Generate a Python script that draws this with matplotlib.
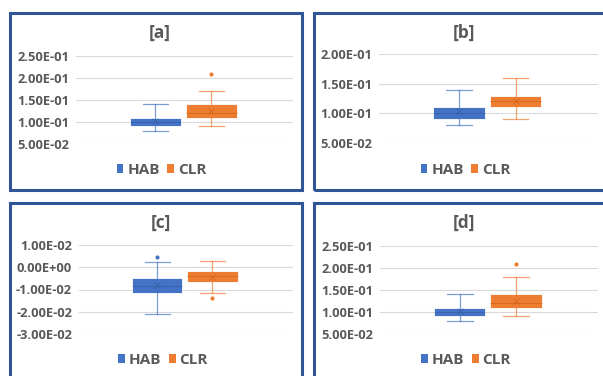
import matplotlib
matplotlib.use("Agg")
import matplotlib.pyplot as plt
from matplotlib.patches import Rectangle
from matplotlib.ticker import FuncFormatter

plt.rcParams['font.family'] = ['Open Sans', 'DejaVu Sans']

W, H = 603, 376
series = ["HAB", "CLR"]
colors = ["#4472C4", "#ED7D31"]
mean_colors = ["#2F5597", "#C55A11"]

# stats: [whisker_low, q1, median, q3, whisker_high]
hab_a = [0.08, 0.09, 0.10, 0.11, 0.14]
clr_a = [0.09, 0.11, 0.12, 0.14, 0.17]
mean_a = [0.102, 0.124]
fliers_a = [[], [0.21]]
ticks_a = [0.05, 0.10, 0.15, 0.20, 0.25]

hab_b = [0.08, 0.09, 0.10, 0.11, 0.14]
clr_b = [0.09, 0.11, 0.12, 0.13, 0.16]
mean_b = [0.104, 0.121]
fliers_b = [[], []]
ticks_b = [0.05, 0.10, 0.15, 0.20]

hab_c = [-0.021, -0.0115, -0.0085, -0.005, 0.0025]
clr_c = [-0.0115, -0.0065, -0.004, -0.0018, 0.003]
mean_c = [-0.008, -0.0043]
fliers_c = [[0.0045], [-0.014]]
ticks_c = [-0.03, -0.02, -0.01, 0.0, 0.01]

hab_d = [0.08, 0.09, 0.10, 0.11, 0.14]
clr_d = [0.09, 0.11, 0.12, 0.14, 0.18]
mean_d = [0.102, 0.125]
fliers_d = [[], [0.21]]
ticks_d = [0.05, 0.10, 0.15, 0.20, 0.25]

titles = ["[a]", "[b]", "[c]", "[d]"]

fig = plt.figure(figsize=(W / 100, H / 100), dpi=100)

def fx(px):
    return px / W

def fy(py):
    return 1 - py / H

# panel frames (px): x0, y0, x1, y1
frames = [(10, 13, 302, 190), (314, 13, 606, 190), (10, 203, 302, 380), (314, 203, 606, 380)]
# plot areas (px): left, top, right, bottom
areas = [(76, 56, 293, 144), (379, 54, 598, 143), (79, 245, 293, 334), (380, 246, 598, 334)]

data = [
    (hab_a, clr_a, mean_a, fliers_a, ticks_a),
    (hab_b, clr_b, mean_b, fliers_b, ticks_b),
    (hab_c, clr_c, mean_c, fliers_c, ticks_c),
    (hab_d, clr_d, mean_d, fliers_d, ticks_d),
]

for (x0, y0, x1, y1) in frames:
    fig.patches.append(Rectangle((fx(x0), fy(y1)), fx(x1 - x0), (y1 - y0) / H,
                                 transform=fig.transFigure, fill=False,
                                 edgecolor="#2F5597", linewidth=2.2, zorder=0))

def sci(v, pos):
    s = "%.2E" % v
    if abs(v) < 1e-12:
        s = "0.00E+00"
    return s

for i, (hab, clr, means, fliers, ticks) in enumerate(data):
    l, t, r, b = areas[i]
    ax = fig.add_axes([fx(l), fy(b), fx(r - l), (b - t) / H])
    stats = []
    for j, s in enumerate([hab, clr]):
        stats.append(dict(whislo=s[0], q1=s[1], med=s[2], q3=s[3], whishi=s[4],
                          mean=means[j], fliers=fliers[j], label=series[j]))
    for j in range(2):
        c = colors[j]
        ax.bxp([stats[j]], positions=[j + 1], widths=0.91, showmeans=True,
               patch_artist=True, showfliers=True,
               boxprops=dict(facecolor=c, edgecolor="#FFFFFF", linewidth=0.6, alpha=1),
               medianprops=dict(color=mean_colors[j], linewidth=0.6, alpha=0.6),
               whiskerprops=dict(color=c, linewidth=0.9, alpha=0.7),
               capprops=dict(color=c, linewidth=0.9, alpha=0.7),
               meanprops=dict(marker="x", markeredgecolor=mean_colors[j], markersize=4,
                              markeredgewidth=0.6, alpha=0.6),
               flierprops=dict(marker="o", markerfacecolor=c, markeredgecolor=c,
                               markersize=2))
    ax.set_xlim(1 - 1.42, 2 + 1.46)
    ax.set_ylim(ticks[0], ticks[-1])
    ax.set_yticks(ticks)
    ax.yaxis.set_major_formatter(FuncFormatter(sci))
    ax.set_xticks([])
    for sp in ax.spines.values():
        sp.set_visible(False)
    ax.grid(axis="y", color="#D9D9D9", linewidth=0.8)
    ax.set_axisbelow(True)
    ax.tick_params(axis="y", length=0, pad=5, labelsize=9.3, labelcolor="#595959")
    for lab in ax.get_yticklabels():
        lab.set_fontweight("bold")
    # title
    x0, y0, x1, y1 = frames[i]
    cx = (l + r) / 2 - 25
    fig.text(fx(cx), fy(y0 + 20), titles[i], ha="center", va="center",
             fontsize=12.5, fontweight="bold", color="#595959")
    # legend
    handles = [Rectangle((0, 0), 1, 1, facecolor=colors[k], edgecolor="none") for k in range(2)]
    fig.legend(handles, series, loc="center", bbox_to_anchor=(fx(cx + 2), fy(y0 + 157)),
               ncol=2, frameon=False, handlelength=0.45, handleheight=0.45,
               handletextpad=0.25, columnspacing=0.5,
               prop=dict(size=11, weight="bold"), labelcolor="#595959")

fig.savefig("out.png", dpi=100, facecolor="white")
